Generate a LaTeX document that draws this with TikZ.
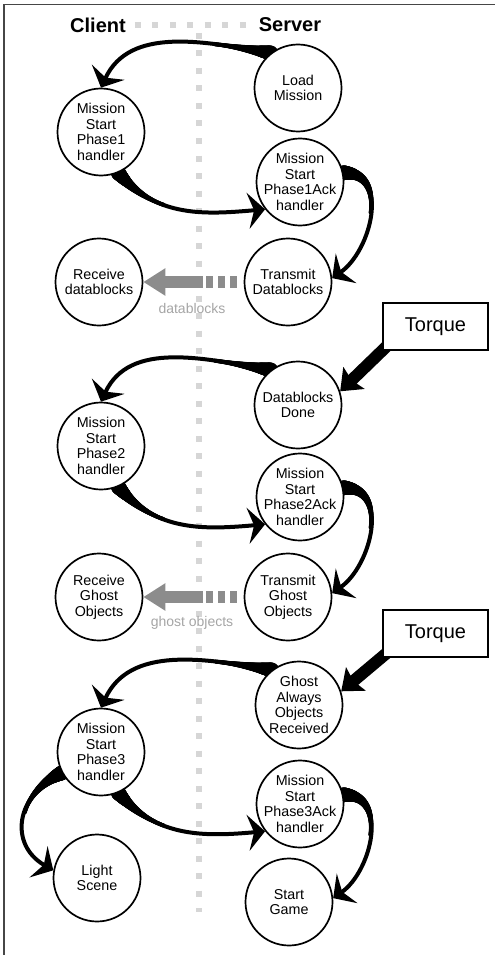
\documentclass[tikz,border=0pt]{standalone}
\usepackage{fontspec}
\setmainfont{Liberation Sans}
\usepackage{tikz}
\usetikzlibrary{arrows.meta,decorations.markings,backgrounds}
\definecolor{divgrau}{RGB}{214,214,214}
\definecolor{xfergrau}{RGB}{140,140,140}
\definecolor{labelgrau}{RGB}{165,165,165}
\definecolor{framegrau}{RGB}{70,70,70}
\tikzset{
    taper/.style={
        postaction={decorate,decoration={markings,
            mark=between positions 0pt and 56pt step 0.5pt with {%
                \pgfmathsetmacro\swr{2+5.5*(1-\pgfkeysvalueof{/pgf/decoration/mark info/distance from start}/56)^2}%
                \fill circle[radius=\swr pt];}}}
    }
}

\begin{document}
\begin{tikzpicture}[
        x=1pt, y=1pt,
        state/.style={circle, draw, line width=1.7pt, fill=white, minimum size=87pt, inner sep=-3pt, align=center, font=\fontsize{14.3}{15.5}\selectfont},
        torquebox/.style={draw, line width=1.6pt, fill=white, minimum width=105pt, minimum height=47pt, font=\fontsize{20}{24}\selectfont},
        side/.style={inner sep=0pt, font=\bfseries\fontsize{20}{24}\selectfont},
        swoosh/.style={taper, line width=4pt, -{Stealth[length=17pt,width=36pt,inset=6pt]}},
        push/.style={line width=12pt, -{Stealth[length=19pt,width=30pt,inset=3pt]}},
        divider/.style={divgrau, line width=6.5pt, dash pattern=on 6pt off 11.5pt},
        xfer/.style={xfergrau, line width=12pt, -{Triangle[length=22pt,width=26pt]}},
        xferdash/.style={xfergrau, line width=12pt, dash pattern=on 7pt off 5pt},
        xferlabel/.style={text=labelgrau, font=\fontsize{14}{16}\selectfont}
    ]
        \useasboundingbox (0,0) rectangle (495,-955);
        \node[side] (client) at (98,-25) {Client};
        \node[side] (server) at (290,-25) {Server};
        \node[state] (load) at (298,-88) {Load\\Mission};
        \node[state] (ph1) at (101,-132) {Mission\\Start\\Phase1\\handler};
        \node[state] (ack1) at (300,-182) {Mission\\Start\\Phase1Ack\\handler};
        \node[state] (rxdb) at (99,-282) {Receive\\datablocks};
        \node[state] (txdb) at (288,-282) {Transmit\\Datablocks};
        \node[torquebox] (torque1) at (435.5,-326.5) {Torque};
        \node[state] (dbdone) at (298,-405) {Datablocks\\Done};
        \node[state] (ph2) at (101,-446) {Mission\\Start\\Phase2\\handler};
        \node[state] (ack2) at (300,-497) {Mission\\Start\\Phase2Ack\\handler};
        \node[state] (rxgh) at (99,-597) {Receive\\Ghost\\Objects};
        \node[state] (txgh) at (288,-597) {Transmit\\Ghost\\Objects};
        \node[torquebox] (torque2) at (435.5,-633.5) {Torque};
        \node[state] (ghrec) at (299,-705) {Ghost\\Always\\Objects\\Received};
        \node[state] (ph3) at (101,-752) {Mission\\Start\\Phase3\\handler};
        \node[state] (ack3) at (300,-804) {Mission\\Start\\Phase3Ack\\handler};
        \node[state] (light) at (97,-878) {Light\\Scene};
        \node[state] (game) at (289,-902) {Start\\Game};
        \node[xferlabel] (dblabel) at (192,-308) {datablocks};
        \node[xferlabel] (ghlabel) at (192,-623) {ghost objects};
        \coordinate (dbmid) at (203,-282);
        \coordinate (ghmid) at (203,-597);
        \coordinate (divtop) at (199,-33);
        \coordinate (divbot) at (199,-912);
        \begin{scope}[on background layer]
            \draw[framegrau, line width=1.5pt] (4,-955) -- (4,-4.5) -- (495,-4.5);
            \draw[divider] (divtop) -- (divbot);
            \draw[divider] ([xshift=9pt]client.east) -- ([xshift=-10pt]server.west);
            \draw[swoosh] (load.128) to[out=170, in=65] (ph1.north);
            \draw[swoosh] (ph1.-67) to[out=-50, in=185] (ack1.218);
            \draw[swoosh] (ack1.12) to[out=0, in=35, looseness=1.15] (txdb.5);
            \draw[push] ([shift={(6,6)}]torque1.south west) -- (dbdone.18);
            \draw[swoosh] (dbdone.128) to[out=170, in=65] (ph2.north);
            \draw[swoosh] (ph2.-67) to[out=-50, in=185] (ack2.218);
            \draw[swoosh] (ack2.12) to[out=0, in=35, looseness=1.15] (txgh.5);
            \draw[push] ([shift={(6,6)}]torque2.south west) -- (ghrec.18);
            \draw[swoosh] (ghrec.128) to[out=170, in=65] (ph3.north);
            \draw[swoosh] (ph3.-67) to[out=-50, in=185] (ack3.218);
            \draw[swoosh] (ack3.12) to[out=0, in=35, looseness=1.15] (game.5);
            \draw[swoosh] (ph3.208) to[out=205, in=150, looseness=1.35] (light.170);
        \end{scope}
        \draw[xferdash] ([xshift=-7pt]txdb.west) -- (dbmid);
        \draw[xfer] (dbmid) -- (rxdb.east);
        \draw[xferdash] ([xshift=-7pt]txgh.west) -- (ghmid);
        \draw[xfer] (ghmid) -- (rxgh.east);
    \end{tikzpicture}
\end{document}
